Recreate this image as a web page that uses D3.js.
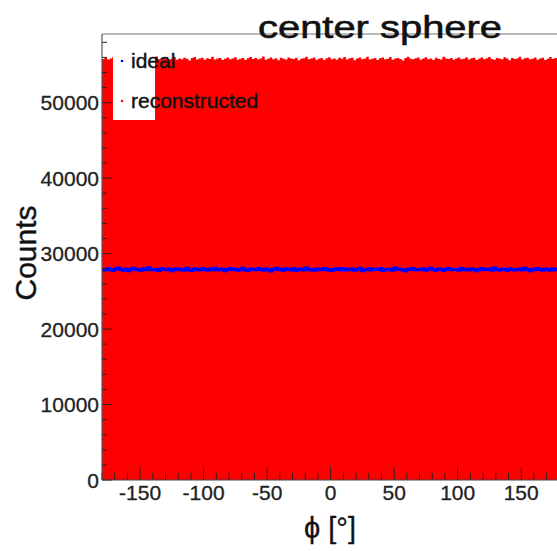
<!DOCTYPE html>
<html><head><meta charset="utf-8">
<script src="https://cdn.jsdelivr.net/npm/d3@7"></script>
<style>body{margin:0;background:#fff}svg{display:block}text{font-family:"Liberation Sans",Arial,sans-serif}</style>
</head><body><svg id="c" width="557" height="551"></svg>
<script>
const title = "center sphere";
const xLabel = "\u03D5 [\u00B0]";
const yLabel = "Counts";
const legendLabels = ["ideal", "reconstructed"];
const xRange = [-180, 180];
const yMax = 59100;
const xTicks = [-150, -100, -50, 0, 50, 100, 150];
const yTicks = [0, 10000, 20000, 30000, 40000, 50000];
const reconstructed = [
55790,55930,55710,55860,56020,55680,55840,55950,55760,55620,
55880,56070,55810,55700,55920,55850,55590,55980,55830,55740,
55900,56110,55770,55650,55860,55990,55720,55810,56040,55690,
55870,55760,55940,55820,55580,55910,56050,55730,55840,55960,
55680,55890,55800,56080,55710,55850,55930,55640,55820,55990,
55750,55870,56010,55700,55830,55920,55660,55880,56060,55790,
55910,55740,55850,56130,55690,55820,55970,55760,55880,55630,
55940,55810,55720,56000,55870,55780,55950,55610,55830,55900,
56090,55740,55860,55980,55700,55820,55930,55670,55890,56020,
55770,55850,55690,55960,55810,56050,55730,55880,55940,55620,
55840,55990,55760,55870,56100,55710,55830,55920,55650,55880,
55970,55740,55810,56040,55690,55860,55930,55780,55600,55910,
56070,55820,55750,55890,55980,55700,55840,56010,55770,55860,
55640,55950,55810,55730,56080,55870,55790,55920,55680,55850,
55990,55760,55830,56030,55710,55880,55940,55650,55820,55970,
55740,55890,56060,55800,55690,55920,55840,55770,56010,55860,
55630,55910,55780,55850,56090,55720,55880,55960,55750,55830,
55990,55700,55870,55940,55660,55820,56040,55790,55910,55850];
const ideal = [
27910,27830,28020,27870,27760,27950,28080,27890,27810,27960,
27740,27920,28050,27860,27900,27790,27980,27850,28110,27880,
27820,27940,27770,28030,27890,27850,27960,27720,27910,28000,
27860,27930,27800,28060,27870,27750,27990,27890,27840,28040,
27910,27780,27950,27870,28090,27820,27900,27970,27730,27880,
28010,27860,27940,27810,27900,28070,27840,27760,27960,27890,
27850,28030,27910,27790,27980,27870,27700,27930,28050,27860,
27920,27810,27990,27880,27840,28020,27760,27900,27950,27830,
28100,27870,27910,27780,27960,27850,27890,28040,27820,27930,
27750,27900,27980,27860,28010,27790,27920,27870,27960,27810,
27880,28060,27740,27910,27850,27990,27830,27940,27890,28020,
27770,27900,27860,27970,27800,28080,27880,27920,27840,27710,
27950,27890,28030,27820,27900,27860,27990,27780,27930,28050,
27870,27810,27960,27900,27750,27940,28010,27850,27890,27920,
27790,28070,27860,27930,27820,27980,27880,27740,27910,28040,
27850,27900,27960,27800,28090,27870,27830,27950,27890,27760,
28000,27910,27840,27880,27970,27820,28060,27890,27730,27940,
27860,28020,27900,27810,27950,27880,27790,27990,27850,27920];

const svg = d3.select("#c");
const L = 102, R = 559.3, T = 34, B = 480;
const x = d3.scaleLinear().domain(xRange).range([L, R]);
const y = d3.scaleLinear().domain([0, yMax]).range([B, T]);
const nb = reconstructed.length;
const bw = (xRange[1] - xRange[0]) / nb;
function stepPts(arr){
  const pts = [];
  arr.forEach((v,i)=>{ const x0 = xRange[0]+i*bw; pts.push([x0,v],[x0+bw,v]); });
  return pts;
}
// red filled histogram
const area = d3.area().x(d=>x(d[0])).y0(y(0)).y1(d=>y(d[1]));
svg.append("path").attr("d", area(stepPts(reconstructed))).attr("fill", "#ff0000");
// blue line
const line = d3.line().x(d=>x(d[0])).y(d=>y(d[1]));
svg.append("path").attr("d", line(stepPts(ideal))).attr("fill","none").attr("stroke","#0000ff").attr("stroke-width",3);

// axes ticks (inside)
const tc = "#3a1a1a";
const g = svg.append("g");
d3.range(-180, 181, 10).forEach(v=>{
  const major = v % 50 === 0;
  g.append("line").attr("x1",x(v)).attr("x2",x(v)).attr("y1",B).attr("y2",B-(major?13:7)).attr("stroke",tc).attr("stroke-width",1);
});
d3.range(0, yMax, 2000).forEach(v=>{
  const major = v % 10000 === 0;
  g.append("line").attr("x1",L).attr("x2",L+(major?10:5)).attr("y1",y(v)).attr("y2",y(v)).attr("stroke",tc).attr("stroke-width",1);
});
// frame
svg.append("line").attr("x1",L).attr("x2",557).attr("y1",T).attr("y2",T).attr("stroke","#777").attr("stroke-width",1.2);
svg.append("line").attr("x1",L).attr("x2",L).attr("y1",T).attr("y2",B).attr("stroke","#555").attr("stroke-width",1.2);
svg.append("line").attr("x1",L).attr("x2",557).attr("y1",B).attr("y2",B).attr("stroke","#444").attr("stroke-width",1.2);

// tick labels
xTicks.forEach(v=>{
  svg.append("text").attr("x",x(v)).attr("y",500).attr("text-anchor","middle").attr("font-size",21).attr("fill","#222")
    .attr("stroke","#222").attr("stroke-width",0.3).text(v);
});
yTicks.forEach(v=>{
  svg.append("text").attr("x",99).attr("y",y(v)+7.5).attr("text-anchor","end").attr("font-size",21).attr("fill","#222")
    .attr("stroke","#222").attr("stroke-width",0.3).text(v);
});

// axis titles
svg.append("text").attr("transform","translate(36,253) rotate(-90)").attr("text-anchor","middle").attr("font-size",30).attr("fill","#111")
  .attr("stroke","#111").attr("stroke-width",0.4).text(yLabel);
svg.append("text").attr("x",330).attr("y",538).attr("text-anchor","middle").attr("font-size",29).attr("fill","#111")
  .attr("stroke","#111").attr("stroke-width",0.3).text(xLabel);

// title
svg.append("text").attr("x",258).attr("y",38).attr("font-size",32).attr("fill","#111")
  .attr("stroke","#111").attr("stroke-width",0.6)
  .attr("textLength",244).attr("lengthAdjust","spacingAndGlyphs").text(title);

// legend
svg.append("rect").attr("x",113).attr("y",40).attr("width",42).attr("height",80).attr("fill","#fff");
const legColors = ["#0000ff","#ff0000"];
const legY = [61, 101];
legendLabels.forEach((t,i)=>{
  svg.append("circle").attr("cx",122).attr("cy",legY[i]).attr("r",1.3).attr("fill",legColors[i]);
  svg.append("text").attr("x",131).attr("y",legY[i]+7).attr("font-size",21).attr("fill","#111")
    .attr("stroke","#111").attr("stroke-width",0.4).text(t);
});
</script></body></html>
